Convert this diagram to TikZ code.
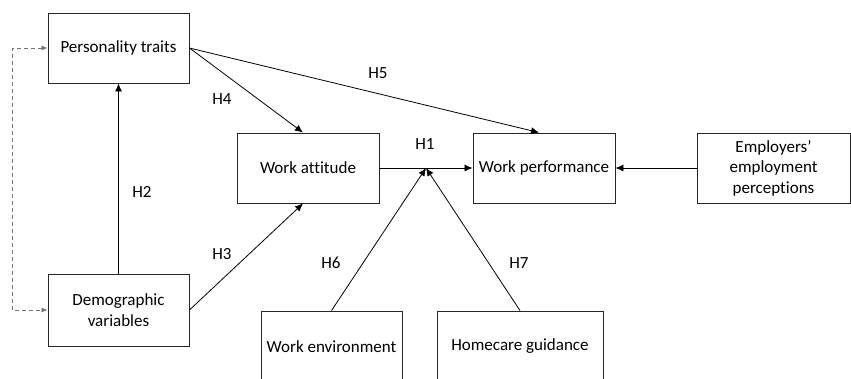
\documentclass[tikz,border=0pt]{standalone}
\usepackage{fontspec}
\setmainfont{Carlito}[Ligatures=NoCommon]
\usetikzlibrary{arrows.meta,calc}
\begin{document}
\begin{tikzpicture}[x=1pt,y=-1pt,
  every node/.style={font=\fontsize{17}{20.5}\selectfont, text=black},
  box/.style={draw=black!85, line width=0.9pt, rectangle, align=center, inner sep=0pt},
  lab/.style={inner sep=0pt},
  arr/.style={draw=black, line width=0.8pt, -{Latex[length=8pt,width=7pt]}},
  dash arr/.style={draw=black!55, line width=0.8pt, dash pattern=on 4pt off 3pt,
     {Latex[length=6pt,width=5pt]}-{Latex[length=6pt,width=5pt]}}]
\useasboundingbox (0,0) rectangle (851,378);
\clip (0,0) rectangle (851,378);
% boxes
\node[box, minimum width=141, minimum height=70] (pt) at (118.5,48) {Personality traits};
\node[box, minimum width=142, minimum height=70] (wa) at (308,168) {Work attitude};
\node[box, minimum width=142, minimum height=70] (wp) at (544,168) {Work performance};
\node[box, minimum width=153, minimum height=70] (ee) at (773.5,168) {Employers’\\employment\\perceptions};
\node[box, minimum width=141, minimum height=72] (dv) at (118.5,310) {Demographic\\variables};
\node[box, minimum width=141, minimum height=71] (we) at (331.5,346.5) {Work environment};
\node[box, minimum width=166, minimum height=71] (hg) at (520,346.5) {Homecare guidance};
% connectors
\coordinate (m) at ($(wa.east)!0.5!(wp.west)$);
\draw[arr] (pt.east) -- ([xshift=-5pt]wa.north);
\draw[arr] (pt.east) -- ([xshift=-5pt]wp.north);
\draw[arr] (dv.north) -- (pt.south);
\draw[arr] (dv.east) -- ([xshift=-5pt]wa.south);
\draw[arr] (wa.east) -- (wp.west);
\draw[arr] (we.north) -- (m);
\draw[arr] (hg.north) -- (m);
\draw[arr] (ee.west) -- (wp.east);
\draw[dash arr] (pt.west) -- ++(-35,0) |- (dv.west);
% labels
\node[lab] (h1) at (425,144) {H1};
\node[lab] (h2) at (142,192) {H2};
\node[lab] (h3) at (222,254) {H3};
\node[lab] (h4) at (222,99) {H4};
\node[lab] (h5) at (378,73) {H5};
\node[lab] (h6) at (331,263) {H6};
\node[lab] (h7) at (519,263) {H7};
\end{tikzpicture}
\end{document}
